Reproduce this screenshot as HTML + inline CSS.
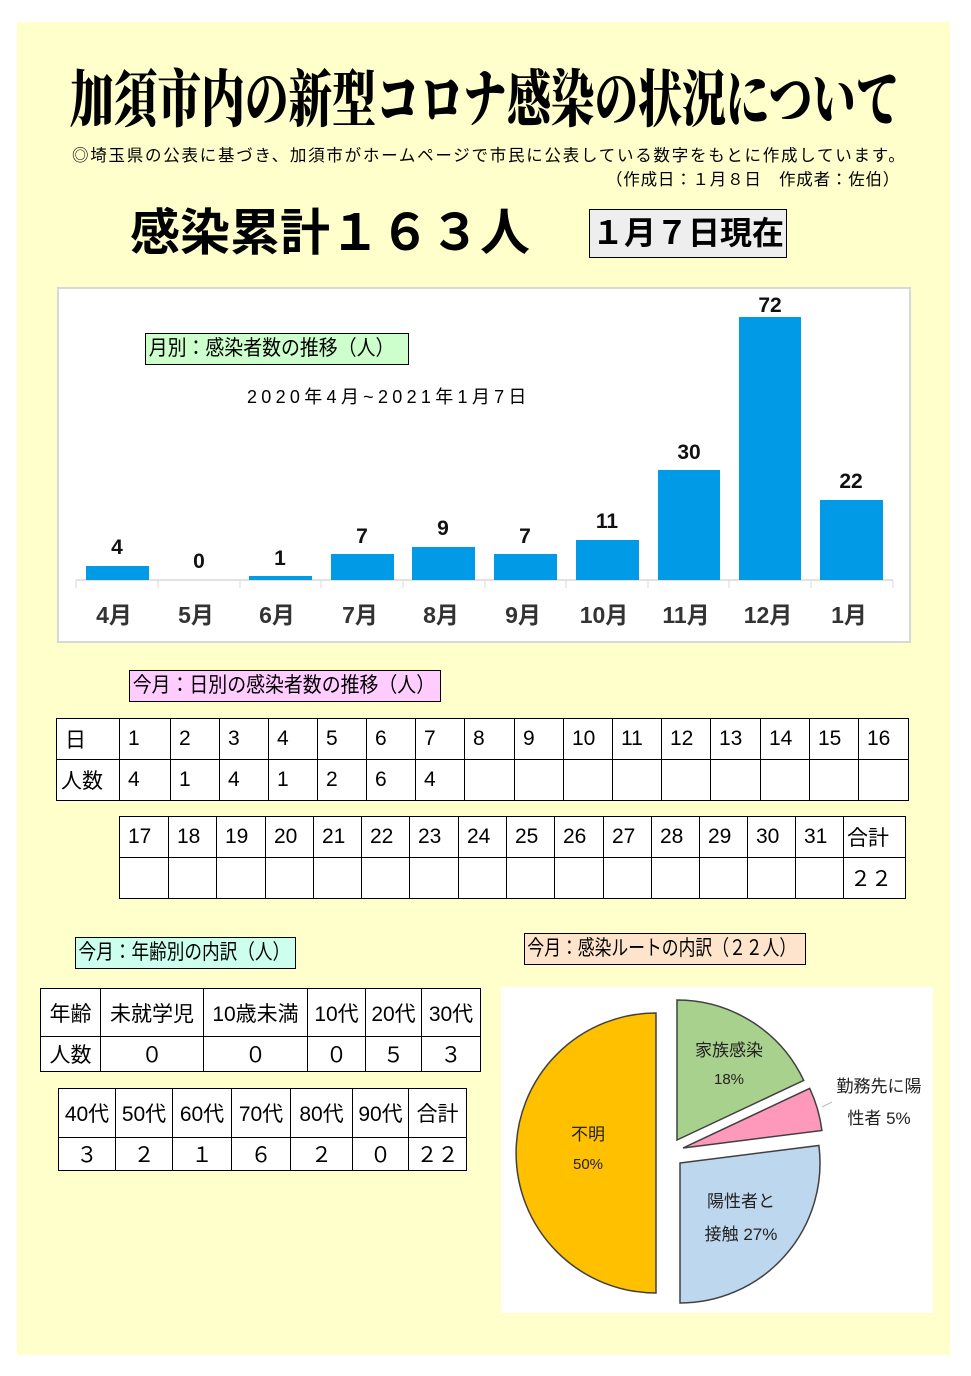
<!DOCTYPE html>
<html><head><meta charset="utf-8"><style>
body{margin:0;width:971px;height:1376px;background:#fff;position:relative;overflow:hidden;font-family:"Liberation Sans","Noto Sans CJK JP",sans-serif;}
.abs{position:absolute;}
#bg{left:17px;top:22px;width:933px;height:1333px;background:#ffffcc;}
.lbl{position:absolute;border:1px solid #000;font-size:21px;line-height:30px;height:30px;white-space:nowrap;overflow:hidden;}
.lbl span{display:inline-block;transform-origin:left center;padding-left:3px;}
table{border-collapse:collapse;table-layout:fixed;position:absolute;background:#fff;}
td{border:1px solid #000;padding:0 0 0 8px;font-size:21px;white-space:nowrap;overflow:hidden;}
.c td{text-align:center;padding:0;}
</style></head><body>
<div id="bg" class="abs"></div>
<div class="abs" style="left:70px;top:58px;white-space:nowrap;font-family:'Noto Serif CJK SC','Liberation Serif',serif;font-weight:900;font-size:62px;line-height:74px;transform:scaleX(0.705);transform-origin:left top;">加須市内の新型コロナ感染の状況について</div>
<div class="abs" style="left:72px;top:142px;font-size:16.5px;white-space:nowrap;letter-spacing:1.75px;">◎埼玉県の公表に基づき、加須市がホームページで市民に公表している数字をもとに作成しています。</div>
<div class="abs" style="left:606px;top:166px;font-size:16.5px;white-space:nowrap;letter-spacing:0.8px;">（作成日：１月８日　作成者：佐伯）</div>
<div class="abs" style="left:130px;top:198px;font-size:50px;font-weight:bold;white-space:nowrap;line-height:70px;">感染累計１６３人</div>
<div class="abs" style="left:589px;top:209px;width:196px;height:47px;border:1px solid #000;background:#eeeeee;font-size:32px;font-weight:bold;line-height:47px;text-align:center;">１月７日現在</div>

<svg class="abs" style="left:0;top:0" width="971" height="1376">
<rect x="58" y="288" width="852" height="354" fill="#fff" stroke="#d8d8d8" stroke-width="2"/>
<line x1="76" y1="580" x2="893" y2="580" stroke="#d9d9d9" stroke-width="1.5"/>
<g stroke="#d9d9d9">
<line x1="76" y1="580" x2="76" y2="588"/><line x1="158" y1="580" x2="158" y2="588"/><line x1="240" y1="580" x2="240" y2="588"/><line x1="321" y1="580" x2="321" y2="588"/><line x1="403" y1="580" x2="403" y2="588"/><line x1="485" y1="580" x2="485" y2="588"/><line x1="566" y1="580" x2="566" y2="588"/><line x1="648" y1="580" x2="648" y2="588"/><line x1="729" y1="580" x2="729" y2="588"/><line x1="811" y1="580" x2="811" y2="588"/><line x1="893" y1="580" x2="893" y2="588"/>
</g>
<g fill="#009ae6">
<rect x="86" y="566" width="63" height="14"/>
<rect x="249" y="576" width="63" height="4"/>
<rect x="331" y="554" width="63" height="26"/>
<rect x="412" y="547" width="63" height="33"/>
<rect x="494" y="554" width="63" height="26"/>
<rect x="576" y="540" width="63" height="40"/>
<rect x="658" y="470" width="62" height="110"/>
<rect x="739" y="317" width="62" height="263"/>
<rect x="820" y="500" width="63" height="80"/>
</g>
<g font-family="Liberation Sans,sans-serif" font-weight="bold" font-size="21" text-anchor="middle" fill="#111">
<text x="117" y="554">4</text><text x="199" y="568">0</text><text x="280" y="565">1</text><text x="362" y="543">7</text><text x="443" y="535">9</text><text x="525" y="543">7</text><text x="607" y="528">11</text><text x="689" y="459">30</text><text x="770" y="312">72</text><text x="851" y="488">22</text>
</g>
<g font-family="Liberation Sans,Noto Sans CJK JP,sans-serif" font-weight="bold" font-size="23" text-anchor="middle" fill="#333">
<text x="114" y="623">4月</text><text x="196" y="623">5月</text><text x="277" y="623">6月</text><text x="360" y="623">7月</text><text x="441" y="623">8月</text><text x="523" y="623">9月</text><text x="604" y="623">10月</text><text x="686" y="623">11月</text><text x="768" y="623">12月</text><text x="849" y="623">1月</text>
</g>
<text x="247" y="403" font-family="Liberation Sans,Noto Sans CJK JP,sans-serif" font-size="18" letter-spacing="4.3">2020年4月~2021年1月7日</text>

<rect x="501" y="987" width="432" height="326" fill="#fff"/>
<g stroke="#404040" stroke-width="1.5">
<path d="M656,1153 L656,1293 A140,140 0 0 1 656,1013 Z" fill="#ffc000"/>
<path d="M677,1140 L677,1000 A140,140 0 0 1 803.7,1080.4 Z" fill="#a9d18e"/>
<path d="M683,1148 L809.7,1088.4 A140,140 0 0 1 821.9,1130.5 Z" fill="#ff99bb"/>
<path d="M680,1163 L818.9,1145.5 A140,140 0 0 1 680,1303 Z" fill="#bdd7ee"/>
</g>
<line x1="822" y1="1107" x2="832" y2="1102" stroke="#bbb"/>
<g font-family="Liberation Sans,Noto Sans CJK JP,sans-serif" font-size="17" fill="#222" text-anchor="middle">
<text x="729" y="1056">家族感染</text><text x="729" y="1084" font-size="15">18%</text>
<text x="879" y="1092">勤務先に陽</text><text x="879" y="1124">性者 5%</text>
<text x="588" y="1140">不明</text><text x="588" y="1169" font-size="15">50%</text>
<text x="741" y="1207">陽性者と</text><text x="741" y="1240">接触 27%</text>
</g>
</svg>

<div class="lbl" style="left:145px;top:333px;width:262px;background:#ccffcc;"><span style="transform:scaleX(0.9)">月別：感染者数の推移（人）</span></div>
<div class="lbl" style="left:129px;top:670px;width:310px;background:#ffccff;"><span style="transform:scaleX(0.9)">今月：日別の感染者数の推移（人）</span></div>
<div class="lbl" style="left:75px;top:937px;width:219px;background:#ccffee;"><span style="transform:scaleX(0.84)">今月：年齢別の内訳（人）</span></div>
<div class="lbl" style="left:524px;top:933px;width:280px;background:#ffe4cc;"><span style="transform:scaleX(0.8)">今月：感染ルートの内訳（２２人）</span></div>

<table style="left:56px;top:718px;width:853px;">
<colgroup><col style="width:63px"><col style="width:51px"><col style="width:49px"><col style="width:49px"><col style="width:49px"><col style="width:49px"><col style="width:49px"><col style="width:49px"><col style="width:50px"><col style="width:49px"><col style="width:49px"><col style="width:49px"><col style="width:49px"><col style="width:50px"><col style="width:49px"><col style="width:49px"><col style="width:50px"></colgroup>
<tr style="height:41px"><td>日</td><td>1</td><td>2</td><td>3</td><td>4</td><td>5</td><td>6</td><td>7</td><td>8</td><td>9</td><td>10</td><td>11</td><td>12</td><td>13</td><td>14</td><td>15</td><td>16</td></tr>
<tr style="height:41px"><td style="padding-left:4px">人数</td><td>4</td><td>1</td><td>4</td><td>1</td><td>2</td><td>6</td><td>4</td><td></td><td></td><td></td><td></td><td></td><td></td><td></td><td></td><td></td></tr>
</table>

<table style="left:119px;top:816px;width:787px;">
<colgroup><col style="width:49px"><col style="width:48px"><col style="width:49px"><col style="width:48px"><col style="width:48px"><col style="width:48px"><col style="width:49px"><col style="width:48px"><col style="width:48px"><col style="width:49px"><col style="width:48px"><col style="width:48px"><col style="width:48px"><col style="width:48px"><col style="width:48px"><col style="width:62px"></colgroup>
<tr style="height:41px"><td>17</td><td>18</td><td>19</td><td>20</td><td>21</td><td>22</td><td>23</td><td>24</td><td>25</td><td>26</td><td>27</td><td>28</td><td>29</td><td>30</td><td>31</td><td style="padding-left:3px">合計</td></tr>
<tr style="height:41px"><td></td><td></td><td></td><td></td><td></td><td></td><td></td><td></td><td></td><td></td><td></td><td></td><td></td><td></td><td></td><td style="padding-left:6px">２２</td></tr>
</table>

<table class="c" style="left:40px;top:988px;width:441px;">
<colgroup><col style="width:60px"><col style="width:103px"><col style="width:104px"><col style="width:58px"><col style="width:56px"><col style="width:59px"></colgroup>
<tr style="height:48px"><td>年齢</td><td>未就学児</td><td>10歳未満</td><td>10代</td><td>20代</td><td>30代</td></tr>
<tr style="height:35px"><td>人数</td><td>０</td><td>０</td><td>０</td><td>５</td><td>３</td></tr>
</table>

<table class="c" style="left:58px;top:1088px;width:409px;">
<colgroup><col style="width:57px"><col style="width:57px"><col style="width:59px"><col style="width:59px"><col style="width:62px"><col style="width:56px"><col style="width:58px"></colgroup>
<tr style="height:49px"><td>40代</td><td>50代</td><td>60代</td><td>70代</td><td>80代</td><td>90代</td><td>合計</td></tr>
<tr style="height:33px"><td>３</td><td>２</td><td>１</td><td>６</td><td>２</td><td>０</td><td>２２</td></tr>
</table>
</body></html>
